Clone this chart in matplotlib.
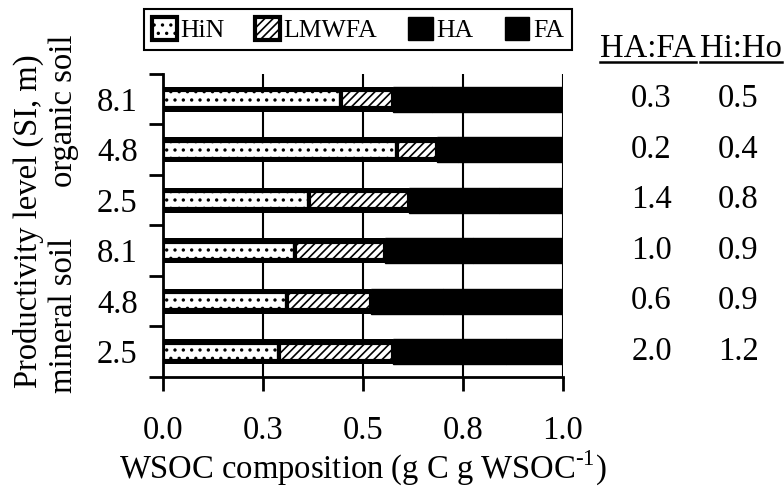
import numpy as np
import matplotlib
matplotlib.use("Agg")
import matplotlib.pyplot as plt
from matplotlib.lines import Line2D
from matplotlib import transforms

plt.rcParams['font.family'] = ['Liberation Serif', 'DejaVu Serif']
plt.rcParams['mathtext.fontset'] = 'custom'
plt.rcParams['mathtext.rm'] = 'Liberation Serif'
plt.rcParams['hatch.linewidth'] = 1.2

# filas de abajo hacia arriba: mineral 2.5, 4.8, 8.1, organico 2.5, 4.8, 8.1
etiquetas = ["2.5", "4.8", "8.1", "2.5", "4.8", "8.1"]
HiN = [0.29, 0.31, 0.33, 0.365, 0.585, 0.445]
LMWFA = [0.285, 0.21, 0.225, 0.25, 0.10, 0.13]
HA = [0.283, 0.18, 0.222, 0.225, 0.053, 0.098]
FA = [0.142, 0.30, 0.223, 0.16, 0.262, 0.327]
ha_fa = ["2.0", "0.6", "1.0", "1.4", "0.2", "0.3"]
hi_ho = ["1.2", "0.9", "0.9", "0.8", "0.4", "0.5"]
xticks = [0.0, 0.25, 0.5, 0.75, 1.0]
xticklabels = ["0.0", "0.3", "0.5", "0.8", "1.0"]

fig = plt.figure(figsize=(7.84, 4.91), dpi=100)
ax = fig.add_axes([0.2075, 0.2322, 0.5102, 0.6171])

y = np.arange(len(etiquetas))
HiN = np.array(HiN)
LMWFA = np.array(LMWFA)
HA = np.array(HA)
FA = np.array(FA)

# fondo negro de cada barra
ax.barh(y, HiN, height=0.49, color='black', zorder=2)
ax.barh(y, LMWFA, left=HiN, height=0.49, color='black', zorder=2)
bHA = ax.barh(y, HA, left=HiN + LMWFA, height=0.49, color='black',
              edgecolor='black', zorder=2, label='HA')
bFA = ax.barh(y, FA, left=HiN + LMWFA + HA, height=0.49, color='black',
              edgecolor='black', zorder=2, label='FA')
# segmentos con trama
bHiN = ax.barh(y, HiN, height=0.36, color='white', edgecolor='black',
               linewidth=3, hatch='..', zorder=3, label='HiN')
bLM = ax.barh(y, LMWFA, left=HiN, height=0.36, color='white', edgecolor='black',
              linewidth=3, hatch='////', zorder=3, label='LMWFA')

ax.set_xlim(0, 1.0)
ax.set_ylim(-0.5, len(etiquetas) - 0.5)
ax.set_xticks(xticks)
ax.set_xticklabels(xticklabels, fontsize=23.5)
ax.set_yticks(y)
ax.set_yticklabels(etiquetas, fontsize=23.5)
ax.set_yticks(np.arange(-0.5, len(etiquetas), 1), minor=True)
ax.tick_params(axis='y', which='major', length=0, pad=18)
ax.tick_params(axis='y', which='minor', length=10, width=2, direction='out')
ax.tick_params(axis='x', length=10, width=2, direction='out', pad=18)
ax.xaxis.grid(True, color='black', linewidth=1.5)
ax.set_axisbelow(True)
for s in ['top', 'right']:
    ax.spines[s].set_visible(False)
for s in ['left', 'bottom']:
    ax.spines[s].set_linewidth(2)

ax.set_xlabel("WSOC composition (g C g WSOC$^{\u2010 1}$)", fontsize=23.5, labelpad=2)

fig.text(0.036, 0.55, "Productivity level (SI, m)", rotation=90,
         ha='center', va='center', fontsize=23.5)
fig.text(0.0816, 0.774, "organic soil", rotation=90, ha='center', va='center', fontsize=23.5)
fig.text(0.0816, 0.358, "mineral soil", rotation=90, ha='center', va='center', fontsize=23.5)

# tabla a la derecha
tr = transforms.blended_transform_factory(fig.transFigure, ax.transData)
for i in range(len(etiquetas)):
    fig.text(0.831, y[i], ha_fa[i], transform=tr, ha='center', va='center', fontsize=23.5)
    fig.text(0.942, y[i], hi_ho[i], transform=tr, ha='center', va='center', fontsize=23.5)
h1 = fig.text(0.827, 0.884, "HA:FA", ha='center', va='baseline', fontsize=23.5)
h2 = fig.text(0.945, 0.884, "Hi:Ho", ha='center', va='baseline', fontsize=23.5)

leg = fig.legend([bHiN, bLM, bHA, bFA], ['HiN', 'LMWFA', 'HA', 'FA'],
                 loc='upper center', bbox_to_anchor=(0.4566, 0.982), ncol=4,
                 fancybox=False, edgecolor='black', framealpha=1,
                 handlelength=0.95, handleheight=1.0, handletextpad=0.15,
                 columnspacing=1.2, borderpad=0.3, borderaxespad=0, fontsize=18.5)
leg.get_frame().set_linewidth(1.5)

# subrayado de los encabezados
fig.canvas.draw()
W, H = fig.bbox.width, fig.bbox.height
for t in [h1, h2]:
    bb = t.get_window_extent()
    yl = (bb.y0 + 2) / H
    fig.add_artist(Line2D([bb.x0 / W, bb.x1 / W], [yl, yl], color='black',
                          linewidth=1.8, transform=fig.transFigure))

fig.savefig("out.png", dpi=100)
